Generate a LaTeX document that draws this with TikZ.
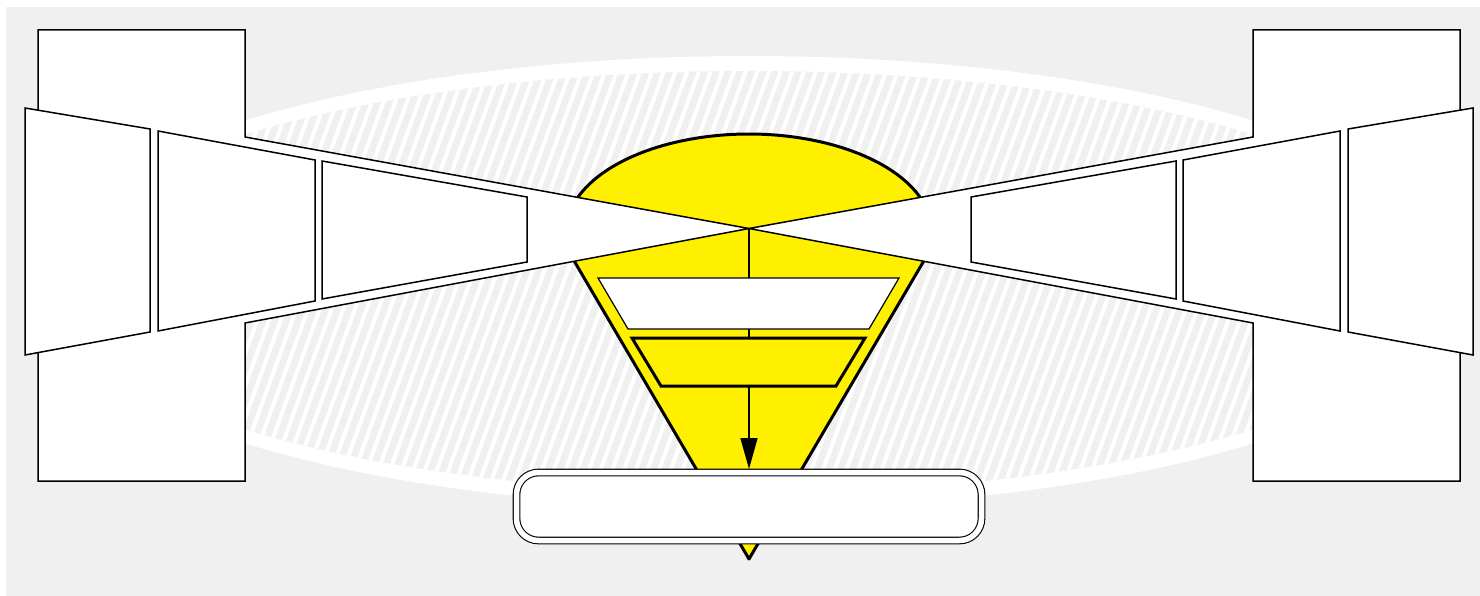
\documentclass[tikz,border=0pt]{standalone}
\usetikzlibrary{arrows.meta}
\definecolor{bggray}{HTML}{F0F0F0}
\definecolor{pinyellow}{HTML}{FFF000}
\begin{document}
\begin{tikzpicture}[x=1pt,y=-1pt,
  panel/.style={draw=black, fill=white, line width=1.5pt, line join=miter},
  cone/.style={draw=black, fill=pinyellow, line width=3pt, line join=round},
  thinpanel/.style={draw=black, fill=white, line width=1.2pt},
  thickpanel/.style={draw=black, fill=pinyellow, line width=3pt},
  stripe/.style={white, line width=4pt},
  flow/.style={draw=black, line width=1.5pt, -{Triangle[length=31pt,width=17pt]}},
  roundbox/.style={draw=black, fill=white, double=white, double distance=5.5pt, line width=1.1pt,
    rounded corners=22pt, minimum width=465pt, minimum height=68pt, inner sep=0pt, outer sep=3.5pt}]
\useasboundingbox (0,0) rectangle (1480,596);
\fill[bggray] (6,7) rectangle (1480,596);
% hatched ellipse
\fill[white] (749,282) ellipse[x radius=720, y radius=226];
\begin{scope}
  \clip (749,282) ellipse[x radius=705, y radius=211];
  \fill[bggray] (0,0) rectangle (1480,596);
  \foreach \i in {0,...,175} \draw[stripe] ({-260+\i*11.7},520) -- ++(170,-467);
\end{scope}
% yellow pin
\draw[cone] (749,559) -- (574.4,261.4) arc[start angle=162.56, end angle=377.44, x radius=183, y radius=98] -- cycle;
\coordinate (apex) at (749,228.5);
\node[roundbox] (box) at (749,506.5) {};
% connector
\draw[flow] (apex) -- (box.north);
% inner trapezoids
\draw[thinpanel] (598,278) -- (899,278) -- (869,329) -- (628,329) -- cycle;
\draw[thickpanel] (632,338) -- (865,338) -- (836,386) -- (661,386) -- cycle;
% left funnel
\draw[panel] (38,30) -- (245,30) -- (245,137) -- (apex) -- (245,323) -- (245,481) -- (38,481) -- cycle;
\draw[panel] (25,108) -- (150,129) -- (150,332) -- (25,355) -- cycle;
\draw[panel] (158,131) -- (315,160) -- (315,301) -- (158,331) -- cycle;
\draw[panel] (322,161) -- (527,197) -- (527,262) -- (322,299) -- cycle;
% right funnel
\draw[panel] (1460,30) -- (1253,30) -- (1253,137) -- (apex) -- (1253,323) -- (1253,481) -- (1460,481) -- cycle;
\draw[panel] (1473,108) -- (1348,129) -- (1348,332) -- (1473,355) -- cycle;
\draw[panel] (1340,131) -- (1183,160) -- (1183,301) -- (1340,331) -- cycle;
\draw[panel] (1176,161) -- (971,197) -- (971,262) -- (1176,299) -- cycle;
\end{tikzpicture}
\end{document}
